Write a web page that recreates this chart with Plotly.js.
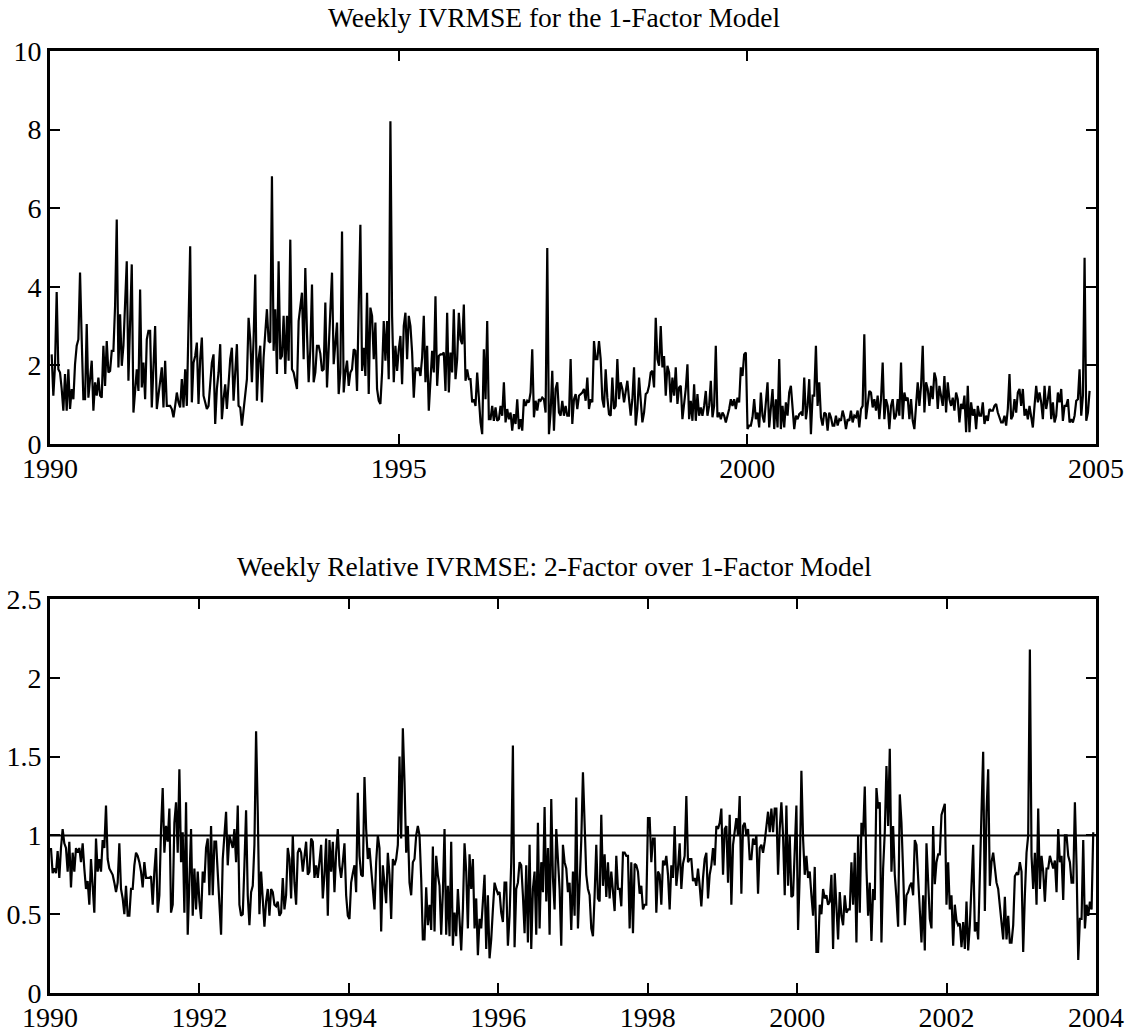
<!DOCTYPE html>
<html><head><meta charset="utf-8">
<script src="https://cdn.plot.ly/plotly-3.0.1.min.js"></script>
<style>html,body{margin:0;padding:0;background:#fff;} #chart{width:1137px;height:1033px;}</style>
</head><body><div id="chart"></div>
<script>
// Weekly IVRMSE, 1-factor model
const ivrmse1F = [
2.28,1.23,1.99,3.87,1.90,1.82,1.40,0.85,1.78,0.85,
1.90,0.89,1.40,1.14,2.03,2.50,2.66,4.36,2.66,1.14,
1.14,3.05,1.18,1.57,2.12,0.85,1.57,1.23,1.69,1.23,
1.18,2.50,1.48,2.62,1.82,1.86,2.37,2.37,3.51,5.71,
1.95,3.30,1.99,2.50,3.51,4.65,1.61,2.92,4.57,0.80,
1.31,1.90,1.35,3.93,1.44,2.07,1.14,2.66,2.88,2.88,
0.93,1.82,3.00,0.89,1.23,1.65,1.95,0.93,2.12,0.97,
0.97,0.97,0.89,0.68,0.97,1.31,1.06,0.93,1.65,0.93,
1.90,0.97,3.00,5.03,1.06,2.07,2.24,2.58,1.02,2.16,
2.71,1.23,1.06,0.89,0.97,1.57,2.07,2.28,0.51,1.40,
1.82,2.54,0.63,1.14,1.52,0.89,1.48,2.16,2.45,1.10,
1.82,2.54,0.97,0.93,0.47,0.89,1.31,1.65,3.21,2.66,
1.57,2.66,4.31,1.10,2.16,2.50,1.06,2.20,2.83,3.43,
2.62,2.58,6.81,2.37,3.43,1.78,4.65,2.16,2.24,3.26,
1.78,3.26,2.12,5.20,1.90,1.82,1.61,1.40,3.13,3.51,
3.85,2.16,4.48,2.83,1.57,2.41,4.06,1.57,1.82,2.50,
2.50,
2.30,1.86,1.90,3.60,1.44,2.50,3.51,4.36,2.03,2.66,
3.09,1.27,1.82,5.41,1.31,1.82,2.12,1.48,1.82,1.90,
2.41,2.37,1.35,3.51,5.58,1.86,2.45,1.73,3.85,1.27,
3.47,3.26,2.16,3.09,1.40,1.10,1.02,1.82,3.13,2.12,
3.13,1.65,8.21,3.26,1.57,2.50,1.86,2.41,2.75,1.52,
3.00,3.34,2.16,3.26,3.00,2.33,1.18,1.95,1.86,1.95,
1.73,2.20,3.26,1.57,2.50,0.85,1.82,2.37,1.82,3.76,
1.48,2.24,2.28,2.28,2.33,1.35,3.34,1.31,2.33,1.82,
3.43,1.65,2.16,3.34,2.66,2.54,3.55,1.61,1.90,1.65,
1.65,1.06,1.14,0.97,1.82,1.14,0.55,0.25,2.41,1.14,
3.13,0.63,0.63,0.97,0.59,0.93,0.59,0.63,0.97,0.72,
1.57,0.55,0.89,0.63,0.80,0.34,0.76,0.51,1.14,0.38,
0.63,0.34,1.14,0.97,1.10,1.06,1.31,2.41,0.68,1.10,
0.85,1.14,1.10,1.18,1.14,0.80,4.99,0.25,0.80,1.86,
0.34,1.40,1.57,0.80,0.72,1.10,0.72,0.97,0.72,0.72,
2.16,0.51,1.14,1.27,0.89,1.23,
1.27,1.31,1.40,1.10,1.69,0.89,1.14,1.06,2.62,2.16,
2.16,2.62,2.16,1.14,0.93,1.90,1.18,0.76,0.72,1.69,
0.89,0.97,2.16,1.14,1.57,1.40,1.06,1.31,1.61,1.14,
0.72,1.14,1.95,0.47,0.89,1.69,0.97,0.55,0.80,1.27,
1.31,1.48,1.82,1.86,1.44,3.21,2.16,1.99,3.00,1.95,
2.24,1.23,1.99,1.82,1.06,1.69,1.23,1.95,1.02,1.44,
1.48,0.63,1.02,1.40,2.03,0.63,1.10,0.59,1.52,0.59,
1.27,0.72,0.93,0.72,0.97,1.35,0.72,0.97,1.61,0.68,
0.97,2.50,0.68,0.80,0.63,0.80,0.72,0.55,0.72,0.89,
1.14,0.97,1.14,0.89,1.18,1.06,1.95,1.73,2.28,2.33,
0.38,0.47,0.47,0.68,1.14,0.63,0.80,0.42,1.31,0.72,
0.55,1.14,1.57,0.42,0.89,1.40,0.38,1.14,0.42,2.16,
0.38,0.97,0.42,1.06,0.72,1.31,1.48,0.80,0.38,0.72,
0.63,0.76,0.80,0.72,1.69,0.63,0.97,1.65,0.25,1.23,
1.23,2.50,0.97,1.57,0.68,0.47,0.80,0.76,0.34,0.80,
0.68,0.47,0.47,0.72,0.47,0.63,
0.59,0.85,0.68,0.38,0.63,0.59,0.85,0.55,0.72,0.68,
0.85,0.42,0.89,0.97,2.79,0.63,0.97,1.35,1.31,0.93,
1.14,0.85,1.23,0.63,1.14,2.07,0.63,1.14,0.97,0.38,
0.97,1.14,0.63,0.72,1.14,0.72,2.07,0.63,1.31,1.10,
1.18,0.63,1.14,0.59,0.38,1.06,1.57,0.97,1.48,2.50,
0.80,1.57,1.40,0.97,1.48,1.14,1.82,1.65,0.89,1.48,
1.27,0.97,1.73,0.80,1.57,1.14,0.97,1.18,0.85,1.31,
1.14,0.55,1.02,0.89,1.23,0.30,1.48,0.30,1.06,0.72,
0.89,0.38,0.97,0.72,0.72,1.06,0.51,0.72,0.59,0.89,
0.85,0.85,0.97,1.02,0.80,0.68,0.55,0.55,0.72,0.47,
0.89,1.78,0.63,0.72,1.14,0.80,1.31,1.40,0.97,1.40,
0.72,0.89,0.63,0.97,0.72,0.42,0.97,1.48,1.06,1.31,
1.06,0.63,1.48,0.89,1.14,1.48,0.63,1.06,0.55,0.72,
1.31,1.06,1.40,0.59,0.97,0.97,1.14,0.55,0.63,0.55,
0.72,1.10,1.14,1.90,0.72,1.23,4.74,0.59,0.80,1.35
];

// Weekly relative IVRMSE, 2-factor over 1-factor model
const relIvrmse = [
0.92,0.76,0.79,0.76,0.90,0.73,0.92,1.04,0.95,0.92,
0.77,0.96,0.67,0.89,0.77,0.92,0.89,0.92,0.83,0.95,
0.79,0.66,0.71,0.56,0.85,0.70,0.51,0.98,0.77,0.85,
0.77,0.97,0.92,1.19,0.85,0.79,0.77,0.75,0.70,0.64,
0.70,0.95,0.66,0.60,0.50,0.68,0.49,0.49,0.66,0.66,
0.81,0.89,0.87,0.83,0.77,0.67,0.83,0.73,0.73,0.73,
0.74,0.56,0.77,0.92,0.51,0.62,1.04,1.30,0.89,1.06,
0.96,1.17,0.51,0.56,1.08,1.21,0.89,1.42,0.83,1.02,
0.51,1.21,0.37,0.66,1.04,0.49,0.79,0.53,0.77,0.58,
0.47,0.77,0.70,0.92,0.98,0.62,1.06,0.62,0.96,0.96,
0.77,0.62,0.37,0.85,1.04,1.15,0.81,1.00,0.96,0.92,
1.04,0.83,1.19,0.56,0.49,0.50,0.81,1.16,0.62,0.43,
0.64,0.68,0.94,1.66,1.15,0.50,0.77,0.62,0.42,0.58,
0.66,0.49,0.66,0.64,0.56,0.55,0.58,0.49,0.51,0.73,
0.53,0.62,0.92,0.85,0.60,1.00,0.70,0.56,0.89,0.92,
0.89,0.77,0.89,0.96,0.75,0.77,0.98,0.96,0.73,0.81,
0.73,
0.85,0.94,0.60,0.75,0.98,0.49,0.97,0.77,0.96,0.64,
0.89,1.04,0.81,0.73,0.83,0.95,0.62,0.49,0.47,0.70,
0.76,0.81,0.64,1.27,0.87,0.75,0.74,1.37,1.04,0.85,
0.92,0.79,0.68,0.53,0.83,1.00,0.92,0.39,0.81,0.70,
0.57,0.89,0.75,0.47,0.85,0.81,0.85,0.94,1.50,0.98,
1.68,1.34,0.89,1.06,0.70,0.62,0.83,0.85,1.00,1.06,
1.00,0.73,0.34,0.34,0.67,0.43,0.56,0.40,0.93,0.39,
0.87,0.75,0.68,0.37,0.64,1.04,0.37,0.68,0.36,0.96,
0.30,0.51,0.36,0.66,0.47,0.27,0.53,0.95,0.77,0.41,
0.88,0.66,0.85,0.41,0.60,0.24,0.47,0.41,0.58,0.75,
0.28,0.62,0.22,0.34,0.53,0.70,0.66,0.63,0.64,0.51,
0.45,0.70,0.70,0.30,0.49,0.83,1.57,0.29,0.66,0.70,
0.83,0.81,0.62,0.38,0.81,0.32,0.94,0.28,0.66,0.77,
0.37,1.08,0.41,0.83,0.64,1.18,0.58,0.92,0.37,1.23,
0.73,0.53,1.04,0.81,0.66,0.30,0.94,0.83,0.79,0.64,
0.70,0.40,0.77,0.49,1.24,0.41,
0.68,0.97,1.40,1.04,0.75,0.66,0.62,0.41,0.36,0.62,
0.94,0.60,0.58,1.13,0.68,0.88,0.61,0.83,0.60,0.77,
0.62,0.52,0.87,0.66,0.66,0.55,0.89,0.89,0.87,0.87,
0.41,0.83,0.38,0.82,0.81,0.77,0.63,0.68,0.53,0.56,
0.56,1.11,1.11,0.83,0.98,0.98,0.51,0.77,0.75,0.56,
0.84,0.81,0.87,0.75,0.53,0.81,0.73,1.06,0.68,0.79,
0.95,0.66,0.82,0.87,1.25,0.83,0.85,0.85,0.71,0.73,
0.68,0.79,0.68,0.55,0.73,0.85,0.89,0.60,0.75,0.81,
0.92,0.81,1.06,1.04,1.08,1.17,0.75,1.04,1.06,0.70,
1.13,0.56,0.94,1.04,1.11,1.00,1.25,0.63,1.06,1.08,
1.00,1.04,0.85,0.85,0.98,0.94,1.00,0.63,0.92,0.94,
0.89,0.96,1.08,1.15,1.02,1.17,1.02,1.17,1.17,0.75,
1.04,1.21,1.00,0.62,1.19,0.68,1.00,0.61,0.62,0.94,
1.19,0.40,0.75,1.41,0.98,0.75,0.87,0.73,0.77,0.62,
0.49,0.80,0.26,0.26,0.56,0.50,0.66,0.60,0.62,0.56,
0.58,0.75,0.28,0.76,0.49,0.34,
0.64,0.49,0.43,0.62,0.51,0.53,0.53,0.83,0.56,0.89,
0.32,1.00,0.51,1.08,1.00,1.31,0.79,0.49,0.70,0.33,
0.66,0.59,1.30,1.17,1.21,0.32,0.79,1.02,1.44,1.06,
1.55,0.77,1.06,0.75,0.60,0.42,1.26,1.08,0.77,0.43,
0.62,0.64,0.68,0.70,0.62,0.97,0.94,0.75,0.51,0.32,
0.62,0.27,0.95,0.70,0.47,0.41,1.06,0.69,0.83,0.88,
0.88,1.13,1.17,1.20,0.56,0.83,0.53,0.62,0.30,0.56,
0.46,0.43,0.44,0.29,0.45,0.28,0.58,0.27,0.43,0.66,
0.94,0.39,0.45,0.34,0.81,1.15,1.53,0.52,1.15,1.42,
0.68,0.83,0.89,0.77,0.70,0.66,0.56,0.43,0.34,0.61,
0.34,0.49,0.32,0.32,0.43,0.74,0.76,0.75,0.83,0.77,
0.26,0.62,0.89,1.00,2.18,0.87,0.66,0.89,0.56,1.17,
0.66,0.87,0.77,0.58,0.79,0.79,0.87,0.83,0.79,0.84,
0.64,1.04,0.83,0.87,0.59,1.00,1.00,0.87,0.83,0.70,
0.70,1.21,0.81,0.21,0.47,0.47,0.97,0.41,0.56,0.49,
0.58,0.53,1.02
];

// Sample periods (decimal years, first and last weekly observation)
const ivrmsePeriod = [1990.024, 2004.908];
const relPeriod = [1990.013, 2003.963];

const topTitle = 'Weekly IVRMSE for the 1-Factor Model';
const bottomTitle = 'Weekly Relative IVRMSE: 2-Factor over 1-Factor Model';
const topYearTicks = [1990, 1995, 2000, 2005];
const bottomYearTicks = [1990, 1992, 1994, 1996, 1998, 2000, 2002, 2004];
const topValueTicks = [0, 2, 4, 6, 8, 10];
const bottomValueTicks = [0, 0.5, 1, 1.5, 2, 2.5];
const bottomValueLabels = ['0', '0.5', '1', '1.5', '2', '2.5'];
const referenceLevel = 1;

function weeklyDates(period, n) {
  const step = (period[1] - period[0]) / (n - 1);
  const out = [];
  for (let i = 0; i < n; i++) out.push(period[0] + i * step);
  return out;
}

const FONT = '"Liberation Serif", "Times New Roman", "DejaVu Serif", serif';
const axisBase = {
  showline: true, linecolor: '#000', linewidth: 3, mirror: 'ticks',
  ticks: 'inside', ticklen: 10, tickwidth: 2, tickcolor: '#000',
  showgrid: false, zeroline: false, fixedrange: true,
  tickfont: {family: FONT, size: 28, color: '#000'}
};

const traces = [
  {x: weeklyDates(ivrmsePeriod, ivrmse1F.length), y: ivrmse1F, type: 'scatter', mode: 'lines',
   line: {color: '#000', width: 2.2}, xaxis: 'x', yaxis: 'y', hoverinfo: 'skip'},
  {x: weeklyDates(relPeriod, relIvrmse.length), y: relIvrmse, type: 'scatter', mode: 'lines',
   line: {color: '#000', width: 2.2}, xaxis: 'x2', yaxis: 'y2', hoverinfo: 'skip'}
];

const topBottom = 0.5828, botTop = 0.4183;
const layout = {
  width: 1137, height: 1033,
  margin: {l: 50, r: 41, t: 51, b: 40},
  paper_bgcolor: '#fff', plot_bgcolor: '#fff',
  showlegend: false,
  font: {family: FONT, color: '#000'},
  xaxis: Object.assign({}, axisBase, {domain: [0, 1], anchor: 'y', range: [1990, 2005],
    tickmode: 'array', tickvals: topYearTicks, ticktext: topYearTicks.map(String), ticklabelstandoff: -3}),
  yaxis: Object.assign({}, axisBase, {domain: [topBottom, 1], anchor: 'x', range: [0, 10],
    tickmode: 'array', tickvals: topValueTicks, ticktext: topValueTicks.map(String)}),
  xaxis2: Object.assign({}, axisBase, {domain: [0, 1], anchor: 'y2', range: [1990, 2004],
    tickmode: 'array', tickvals: bottomYearTicks, ticktext: bottomYearTicks.map(String), ticklabelstandoff: -3}),
  yaxis2: Object.assign({}, axisBase, {domain: [0, botTop], anchor: 'x2', range: [0, 2.5],
    tickmode: 'array', tickvals: bottomValueTicks, ticktext: bottomValueLabels}),
  shapes: [{type: 'line', xref: 'x2 domain', x0: 0, x1: 1, yref: 'y2', y0: referenceLevel, y1: referenceLevel,
    line: {color: '#000', width: 2}}],
  annotations: [
    {text: topTitle, xref: 'paper', x: 0.482, xanchor: 'center', yref: 'paper', y: 1, yanchor: 'bottom', yshift: 16,
     showarrow: false, font: {family: FONT, size: 27.5, color: '#000'}},
    {text: bottomTitle, xref: 'paper', x: 0.482, xanchor: 'center', yref: 'paper', y: botTop, yanchor: 'bottom', yshift: 15,
     showarrow: false, font: {family: FONT, size: 27.5, color: '#000'}}
  ]
};

Plotly.newPlot('chart', traces, layout, {displayModeBar: false, staticPlot: true});
</script>
</body></html>
